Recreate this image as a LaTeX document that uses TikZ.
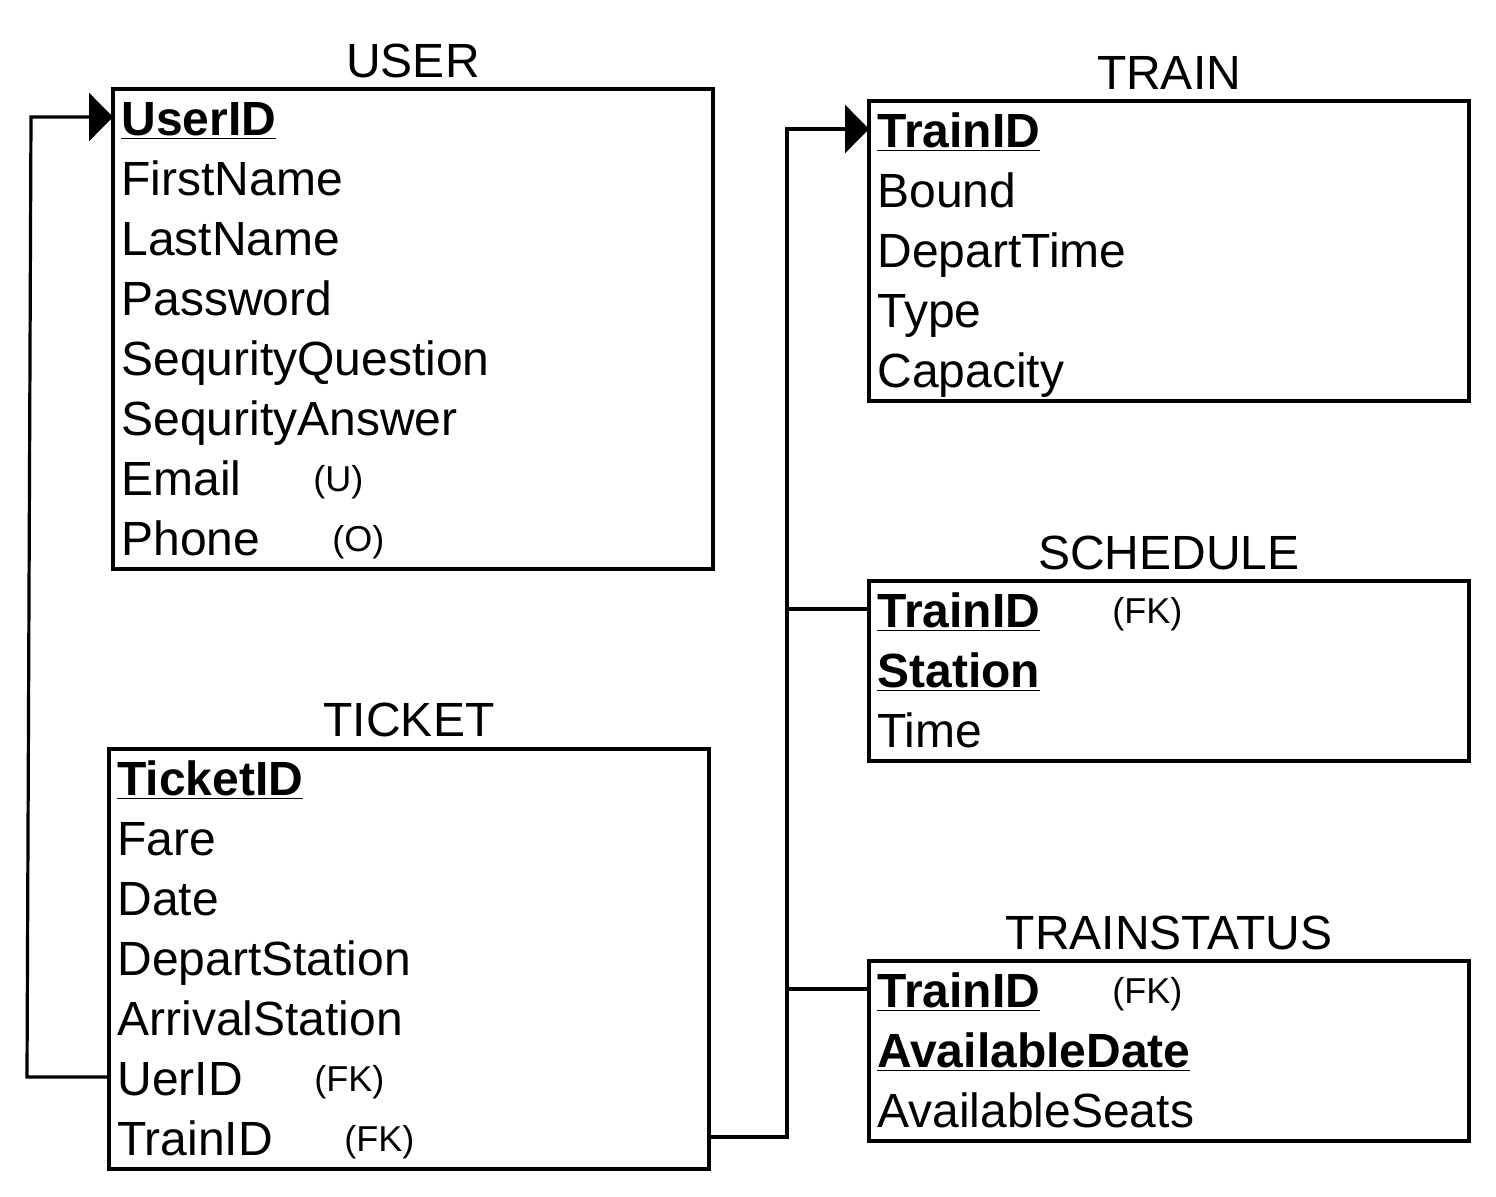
\documentclass[tikz,border=0pt]{standalone}
\usepackage{fontspec}
\setmainfont{Liberation Sans}
\usetikzlibrary{arrows.meta}
\tikzset{
  attr/.style={anchor=west, inner sep=0pt, text height=18pt, text depth=0pt,
    font=\fontsize{24}{28}\selectfont},
  keyattr/.style={attr, font=\fontsize{24}{28}\selectfont\bfseries},
  note/.style={anchor=west, inner sep=0pt, text height=14pt, text depth=0pt,
    font=\fontsize{18}{22}\selectfont},
  tabletitle/.style={anchor=base, inner sep=0pt, font=\fontsize{24}{28}\selectfont},
  tablebox/.style={line width=1.6pt},
  link/.style={line width=1.6pt},
  fkarrow/.style={link, -{Triangle[length=12pt,width=24pt]}}
}
\begin{document}
\begin{tikzpicture}[x=0.5pt, y=-0.5pt]
  \useasboundingbox (0,0) rectangle (1496,1196);

  % USER
  \node[tabletitle] (usertitle) at (413,77) {USER};
  \coordinate (user-nw) at (113,89);
  \coordinate (user-se) at (713,569);
  \draw[tablebox] (user-nw) rectangle (user-se);
  \node[keyattr] (userid) at (121,117) {\underline{UserID}};
  \node[attr] (firstname) at (121,177) {FirstName};
  \node[attr] (lastname) at (121,237) {LastName};
  \node[attr] (password) at (121,297) {Password};
  \node[attr] (squestion) at (121,357) {SequrityQuestion};
  \node[attr] (sanswer) at (121,417) {SequrityAnswer};
  \node[attr] (email) at (121,477) {Email};
  \node[note] (emailnote) at (313,477) {(U)};
  \node[attr] (phone) at (121,537) {Phone};
  \node[note] (phonenote) at (332,537) {(O)};

  % TICKET
  \node[tabletitle] (tickettitle) at (409,736) {TICKET};
  \coordinate (ticket-nw) at (109,749);
  \coordinate (ticket-se) at (709,1169);
  \draw[tablebox] (ticket-nw) rectangle (ticket-se);
  \node[keyattr] (ticketid) at (117,777) {\underline{TicketID}};
  \node[attr] (fare) at (117,837) {Fare};
  \node[attr] (date) at (117,897) {Date};
  \node[attr] (dstation) at (117,957) {DepartStation};
  \node[attr] (astation) at (117,1017) {ArrivalStation};
  \node[attr] (uerid) at (117,1077) {UerID};
  \node[note] (ueridnote) at (314,1077) {(FK)};
  \node[attr] (tktrain) at (117,1137) {TrainID};
  \node[note] (tktrainnote) at (344,1137) {(FK)};

  % TRAIN
  \node[tabletitle] (traintitle) at (1169,89) {TRAIN};
  \coordinate (train-nw) at (869,101);
  \coordinate (train-se) at (1469,401);
  \draw[tablebox] (train-nw) rectangle (train-se);
  \node[keyattr] (trainid) at (877,129) {\underline{TrainID}};
  \node[attr] (bound) at (877,189) {Bound};
  \node[attr] (departtime) at (877,249) {DepartTime};
  \node[attr] (type) at (877,309) {Type};
  \node[attr] (capacity) at (877,369) {Capacity};

  % SCHEDULE
  \node[tabletitle] (schedtitle) at (1169,569) {SCHEDULE};
  \coordinate (sched-nw) at (869,581);
  \coordinate (sched-se) at (1469,761);
  \draw[tablebox] (sched-nw) rectangle (sched-se);
  \node[keyattr] (schedtrain) at (877,609) {\underline{TrainID}};
  \node[note] (schedtrainnote) at (1112,609) {(FK)};
  \node[keyattr] (station) at (877,669) {\underline{Station}};
  \node[attr] (time) at (877,729) {Time};

  % TRAINSTATUS
  \node[tabletitle] (statustitle) at (1169,949) {TRAINSTATUS};
  \coordinate (status-nw) at (869,961);
  \coordinate (status-se) at (1469,1141);
  \draw[tablebox] (status-nw) rectangle (status-se);
  \node[keyattr] (statustrain) at (877,989) {\underline{TrainID}};
  \node[note] (statustrainnote) at (1112,989) {(FK)};
  \node[keyattr] (availdate) at (877,1049) {\underline{AvailableDate}};
  \node[attr] (availseats) at (877,1109) {AvailableSeats};

  % foreign keys
  \coordinate (userbus-low) at (27,0 |- uerid);
  \coordinate (userbus-high) at (31,0 |- userid);
  \draw[fkarrow] (ticket-nw |- uerid) -- (userbus-low) -- (userbus-high)
    -- (user-nw |- userid);
  \coordinate (trainbus-low) at (787,0 |- tktrain);
  \coordinate (trainbus-high) at (787,0 |- trainid);
  \draw[fkarrow] (ticket-se |- tktrain) -- (trainbus-low) -- (trainbus-high)
    -- (train-nw |- trainid);
  \draw[link] (trainbus-low |- schedtrain) -- (sched-nw |- schedtrain);
  \draw[link] (trainbus-low |- statustrain) -- (status-nw |- statustrain);
\end{tikzpicture}
\end{document}
